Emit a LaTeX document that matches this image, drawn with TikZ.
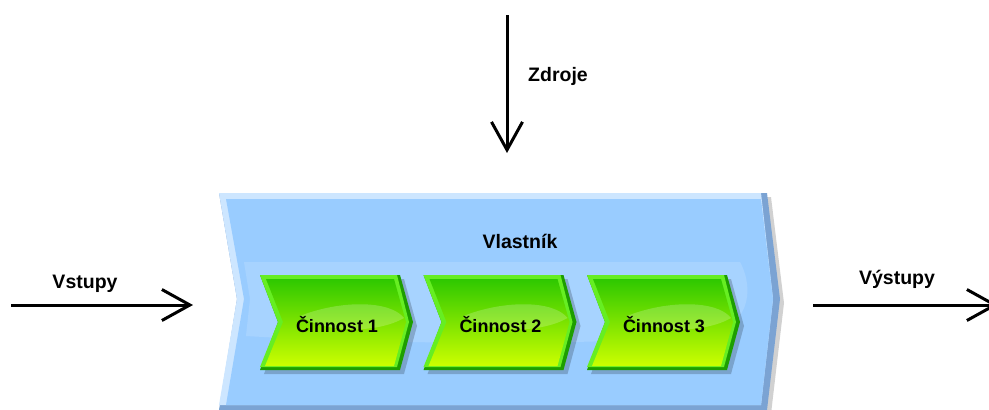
\documentclass[tikz,border=0pt]{standalone}
\usepackage{fontspec}
\setmainfont{Liberation Sans}
\usetikzlibrary{arrows.meta,fadings}
\definecolor{bluemain}{HTML}{99CCFF}
\definecolor{bluelight}{HTML}{CDE6FF}
\definecolor{bluedark}{HTML}{7BA3D3}
\definecolor{greentop}{HTML}{2EC800}
\definecolor{greenbot}{HTML}{CCFF00}
\definecolor{greendark}{HTML}{1E9E00}
\definecolor{greenlight}{HTML}{66EE22}
\tikzset{
  lbl/.style={font=\fontsize{19.5}{22}\selectfont\bfseries, text=black},
  actlbl/.style={font=\fontsize{18}{20}\selectfont\bfseries, text=black},
  flow/.style={line width=3pt, -{Straight Barb[length=28pt,width=31pt,line width=3pt]}},
}
\begin{document}
\begin{tikzpicture}[x=1pt,y=-1pt]
\useasboundingbox (0,0) rectangle (989,410);
\clip (0,0) rectangle (989,410);

% owner chevron: shadow, dark edge, light edge, body
\fill[black, opacity=0.18] (223,197)--(771,197)--(784,303)--(771,414)--(223,414)--(241,303)--cycle;
\fill[bluedark] (219,193)--(767,193)--(780,299)--(767,410)--(219,410)--(237,299)--cycle;
\fill[bluelight] (219,193)--(761,193)--(773,299)--(761,405)--(219,405)--(237,299)--cycle;
\fill[bluemain] (226,199)--(761,199)--(773,299)--(761,405)--(226,405)--(244,299)--cycle;
% gloss band
\fill[white, opacity=0.14] (244,262)--(740,262) .. controls (755,290) and (750,330) .. (700,336)
  .. controls (600,345) and (400,345) .. (246,336)--(250,299)--cycle;

\node[lbl] (owner) at (520,241) {Vlastník};

% activities
\foreach \i/\x in {1/260,2/423.5,3/587}{
  \fill[black, opacity=0.2] (\x+4,279)--(\x+144,279)--(\x+157,326)--(\x+144,374)--(\x+4,374)--(\x+22,326)--cycle;
  \fill[greendark] (\x,275)--(\x+140,275)--(\x+153,322)--(\x+140,370)--(\x,370)--(\x+18,322)--cycle;
  \fill[greenlight] (\x,275)--(\x+137,275)--(\x+149,322)--(\x+137,367)--(\x,367)--(\x+18,322)--cycle;
  \shade[top color=greentop, bottom color=greenbot] (\x+6,279)--(\x+134,279)--(\x+146,322)--(\x+134,366)--(\x+5,366)--(\x+23,322)--cycle;
  \fill[white, opacity=0.2] (\x+40,316) .. controls (\x+80,300) and (\x+130,300) .. (\x+144,318)
     .. controls (\x+120,332) and (\x+70,335) .. (\x+40,316)--cycle;
  \node[actlbl] (act\i) at (\x+77,325) {Činnost \i};
}

% inputs
\coordinate (inS) at (11,305);
\coordinate (inE) at (193,305);
\draw[flow] (inS) -- (inE);
\node[lbl] (inL) at (85,284) {Vstupy};

% outputs
\coordinate (outS) at (813,305);
\coordinate (outE) at (998,305);
\draw[flow] (outS) -- (outE);
\node[lbl] (outL) at (897,279) {Výstupy};

% resources
\coordinate (resS) at (507,15);
\coordinate (resE) at (507,153);
\draw[flow] (resS) -- (resE);
\node[lbl] (resL) at (558,76) {Zdroje};
\end{tikzpicture}
\end{document}
